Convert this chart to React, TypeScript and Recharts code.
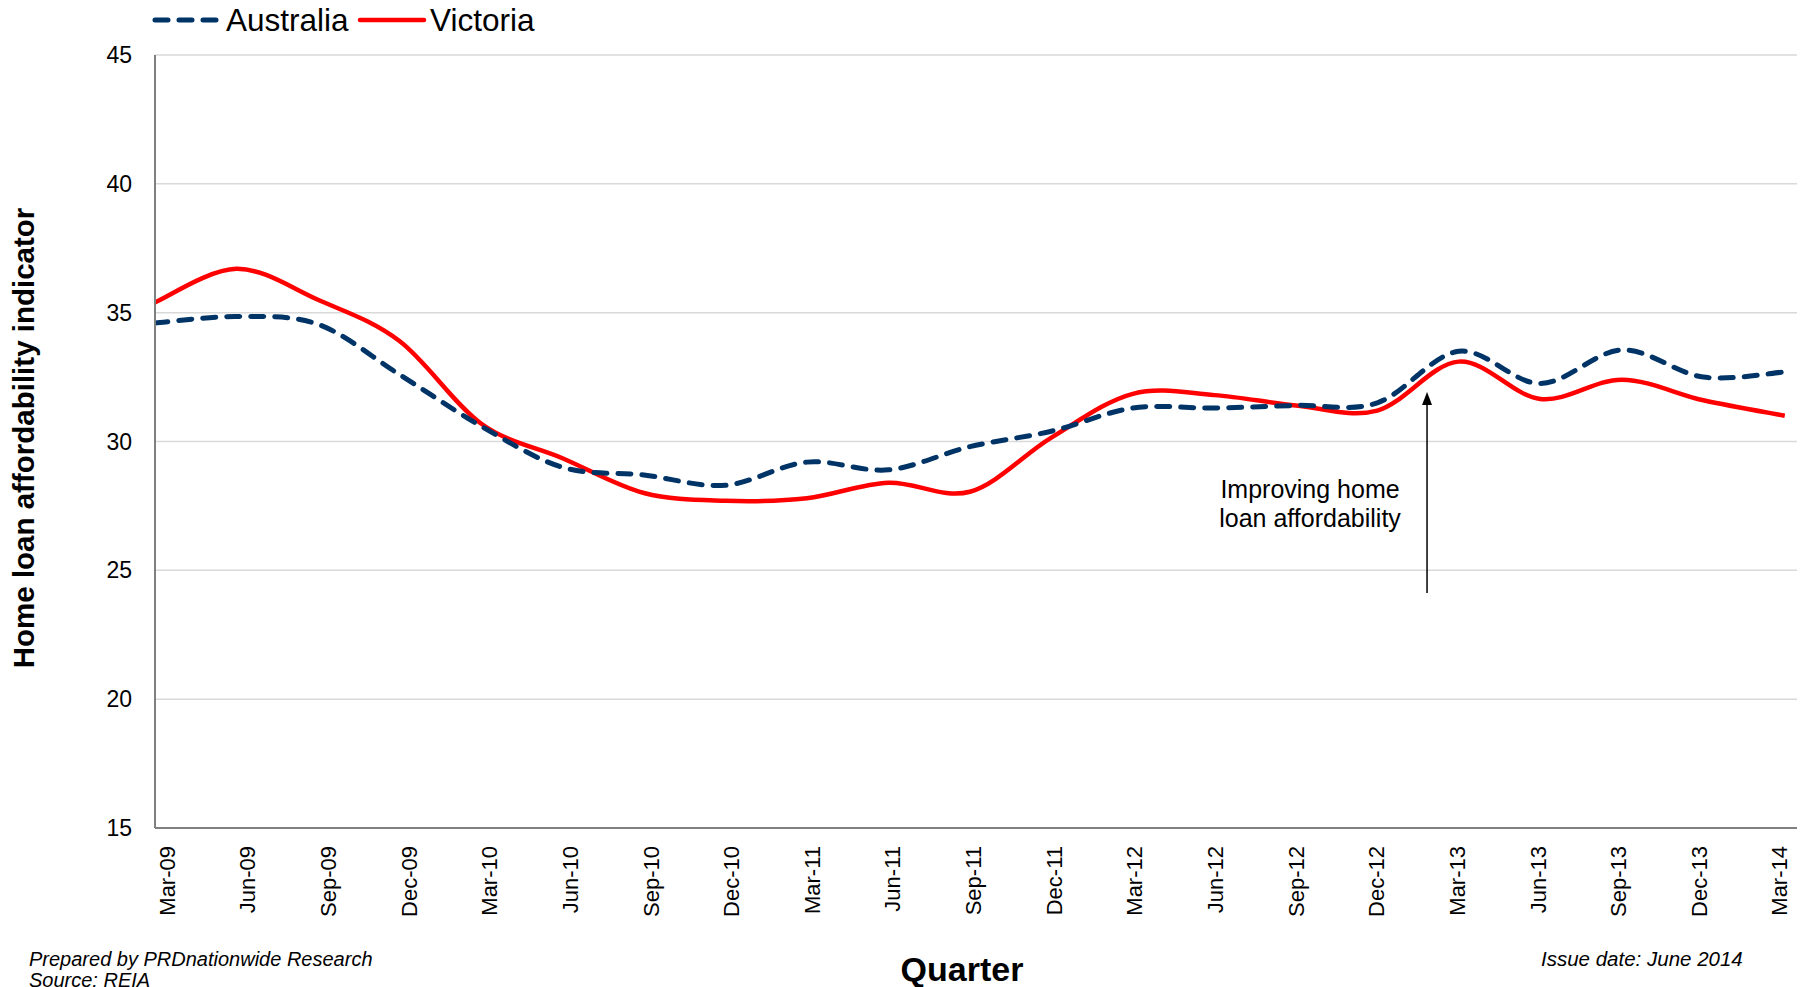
import { LineChart, Line, XAxis, YAxis, CartesianGrid, ReferenceLine } from "recharts";

const quarters = [
  "Mar-09", "Jun-09", "Sep-09", "Dec-09",
  "Mar-10", "Jun-10", "Sep-10", "Dec-10",
  "Mar-11", "Jun-11", "Sep-11", "Dec-11",
  "Mar-12", "Jun-12", "Sep-12", "Dec-12",
  "Mar-13", "Jun-13", "Sep-13", "Dec-13",
  "Mar-14",
];

const australia = [
  34.6, 34.85, 34.55, 32.6, 30.6, 29.0, 28.7, 28.3, 29.2, 28.9, 29.8,
  30.4, 31.3, 31.3, 31.4, 31.5, 33.5, 32.25, 33.55, 32.5, 32.7,
];

const victoria = [
  35.4, 36.7, 35.5, 33.9, 30.7, 29.35, 28.0, 27.7, 27.8, 28.4, 28.05,
  30.15, 31.85, 31.8, 31.4, 31.2, 33.1, 31.65, 32.4, 31.6, 31.0,
];

const yTicks = [15, 20, 25, 30, 35, 40, 45];

const seriesNames = ["Australia", "Victoria"];
const seriesColors = ["#003366", "#ff0000"];

// arrow annotation, in data units (x = quarter index)
const arrowX = 15.61;
const arrowFrom = 24.12;
const arrowTo = 31.92;
const noteLines = ["Improving home", "loan affordability"];

const data = quarters.map((q, i) => ({
  idx: i,
  quarter: q,
  australia: australia[i],
  victoria: victoria[i],
}));

const FONT = "'Liberation Sans', Arial, sans-serif";

// Excel style smoothed line (Catmull-Rom through the points)
const excelSmooth = (context: any) => {
  let pts: number[][] = [];
  return {
    areaStart() {},
    areaEnd() {},
    lineStart() {
      pts = [];
    },
    point(x: number, y: number) {
      pts.push([+x, +y]);
    },
    lineEnd() {
      if (!pts.length) return;
      context.moveTo(pts[0][0], pts[0][1]);
      for (let i = 0; i < pts.length - 1; i++) {
        const p0 = pts[Math.max(0, i - 1)];
        const p1 = pts[i];
        const p2 = pts[i + 1];
        const p3 = pts[Math.min(pts.length - 1, i + 2)];
        context.bezierCurveTo(
          p1[0] + (p2[0] - p0[0]) / 6,
          p1[1] + (p2[1] - p0[1]) / 6,
          p2[0] - (p3[0] - p1[0]) / 6,
          p2[1] - (p3[1] - p1[1]) / 6,
          p2[0],
          p2[1]
        );
      }
    },
  };
};

const XTick = (props: any) => {
  const { x, y, payload, index } = props;
  // excel spreads the labels a touch narrower than the points
  const shift = 12 - 0.85 * (index ?? payload.value);
  return (
    <text
      transform={`translate(${x + shift},${y + 10}) rotate(-90)`}
      textAnchor="end"
      dy="0.35em"
      fontSize={22}
      fontFamily={FONT}
      fill="#000"
    >
      {quarters[payload.value]}
    </text>
  );
};

const YTick = (props: any) => {
  const { y, payload } = props;
  return (
    <text x={132} y={y} dy="0.35em" textAnchor="end" fontSize={23} fontFamily={FONT} fill="#000">
      {payload.value}
    </text>
  );
};

const Arrow = (props: any) => {
  const { x1, y1, y2 } = props;
  const top = Math.min(y1, y2);
  const bottom = Math.max(y1, y2);
  return (
    <g>
      <line x1={x1} y1={bottom} x2={x1} y2={top + 10} stroke="#000" strokeWidth={1.5} />
      <polygon points={`${x1},${top} ${x1 - 5},${top + 13} ${x1 + 5},${top + 13}`} fill="#000" />
      {noteLines.map((t, i) => (
        <text
          key={t}
          x={x1 - 117}
          y={top + 106 + i * 29}
          textAnchor="middle"
          fontSize={25}
          fontFamily={FONT}
          fill="#000"
        >
          {t}
        </text>
      ))}
    </g>
  );
};

function Overlay() {
  return (
    <svg width={1806} height={987} style={{ position: "absolute", left: 0, top: 0, pointerEvents: "none" }}>
      {/* legend */}
      <line x1={155} y1={20} x2={218} y2={20} stroke={seriesColors[0]} strokeWidth={5} strokeDasharray="13 11" strokeLinecap="round" />
      <text x={226} y={31} fontSize={31.5} fontFamily={FONT} fill="#000">{seriesNames[0]}</text>
      <line x1={360} y1={20} x2={424} y2={20} stroke={seriesColors[1]} strokeWidth={4.5} strokeLinecap="round" />
      <text x={430} y={31} fontSize={31.5} fontFamily={FONT} fill="#000">{seriesNames[1]}</text>

      <text
        transform="translate(24,438) rotate(-90)"
        textAnchor="middle"
        dy="0.35em"
        fontSize={29.5}
        fontWeight="bold"
        fontFamily={FONT}
        fill="#000"
      >
        Home loan affordability indicator
      </text>
      <text x={962} y={981} textAnchor="middle" fontSize={34} fontWeight="bold" fontFamily={FONT} fill="#000">
        Quarter
      </text>

      <text x={29} y={966} fontSize={20} fontStyle="italic" fontFamily={FONT} fill="#000">
        Prepared by PRDnationwide Research
      </text>
      <text x={29} y={987} fontSize={20} fontStyle="italic" fontFamily={FONT} fill="#000">
        Source: REIA
      </text>
      <text x={1541} y={966} fontSize={20.5} fontStyle="italic" fontFamily={FONT} fill="#000">
        Issue date: June 2014
      </text>
    </svg>
  );
}

export default function App() {
  return (
    <div style={{ position: "absolute", left: 0, top: 0, width: 1806, height: 987, background: "#fff", overflow: "hidden" }}>
      <LineChart width={1806} height={987} data={data} margin={{ top: 55, right: 9, bottom: 59, left: 95 }}>
        <CartesianGrid vertical={false} stroke="#d9d9d9" strokeWidth={1.5} />
        <XAxis
          dataKey="idx"
          type="number"
          domain={[0, 20.15]}
          ticks={quarters.map((_q, i) => i)}
          interval={0}
          height={100}
          axisLine={{ stroke: "#808080", strokeWidth: 2 }}
          tickLine={false}
          tick={<XTick />}
          allowDataOverflow
        />
        <YAxis
          domain={[15, 45]}
          ticks={yTicks}
          width={60}
          axisLine={{ stroke: "#808080", strokeWidth: 2 }}
          tickLine={false}
          tick={<YTick />}
        />
        <ReferenceLine
          segment={[
            { x: arrowX, y: arrowFrom },
            { x: arrowX, y: arrowTo },
          ]}
          shape={<Arrow />}
        />
        <Line
          dataKey="victoria"
          name={seriesNames[1]}
          type={excelSmooth as any}
          stroke={seriesColors[1]}
          strokeWidth={4.5}
          dot={false}
          isAnimationActive={false}
        />
        <Line
          dataKey="australia"
          name={seriesNames[0]}
          type={excelSmooth as any}
          stroke={seriesColors[0]}
          strokeWidth={5}
          strokeDasharray="13 11"
          strokeLinecap="round"
          dot={false}
          isAnimationActive={false}
        />
      </LineChart>
      <Overlay />
    </div>
  );
}
